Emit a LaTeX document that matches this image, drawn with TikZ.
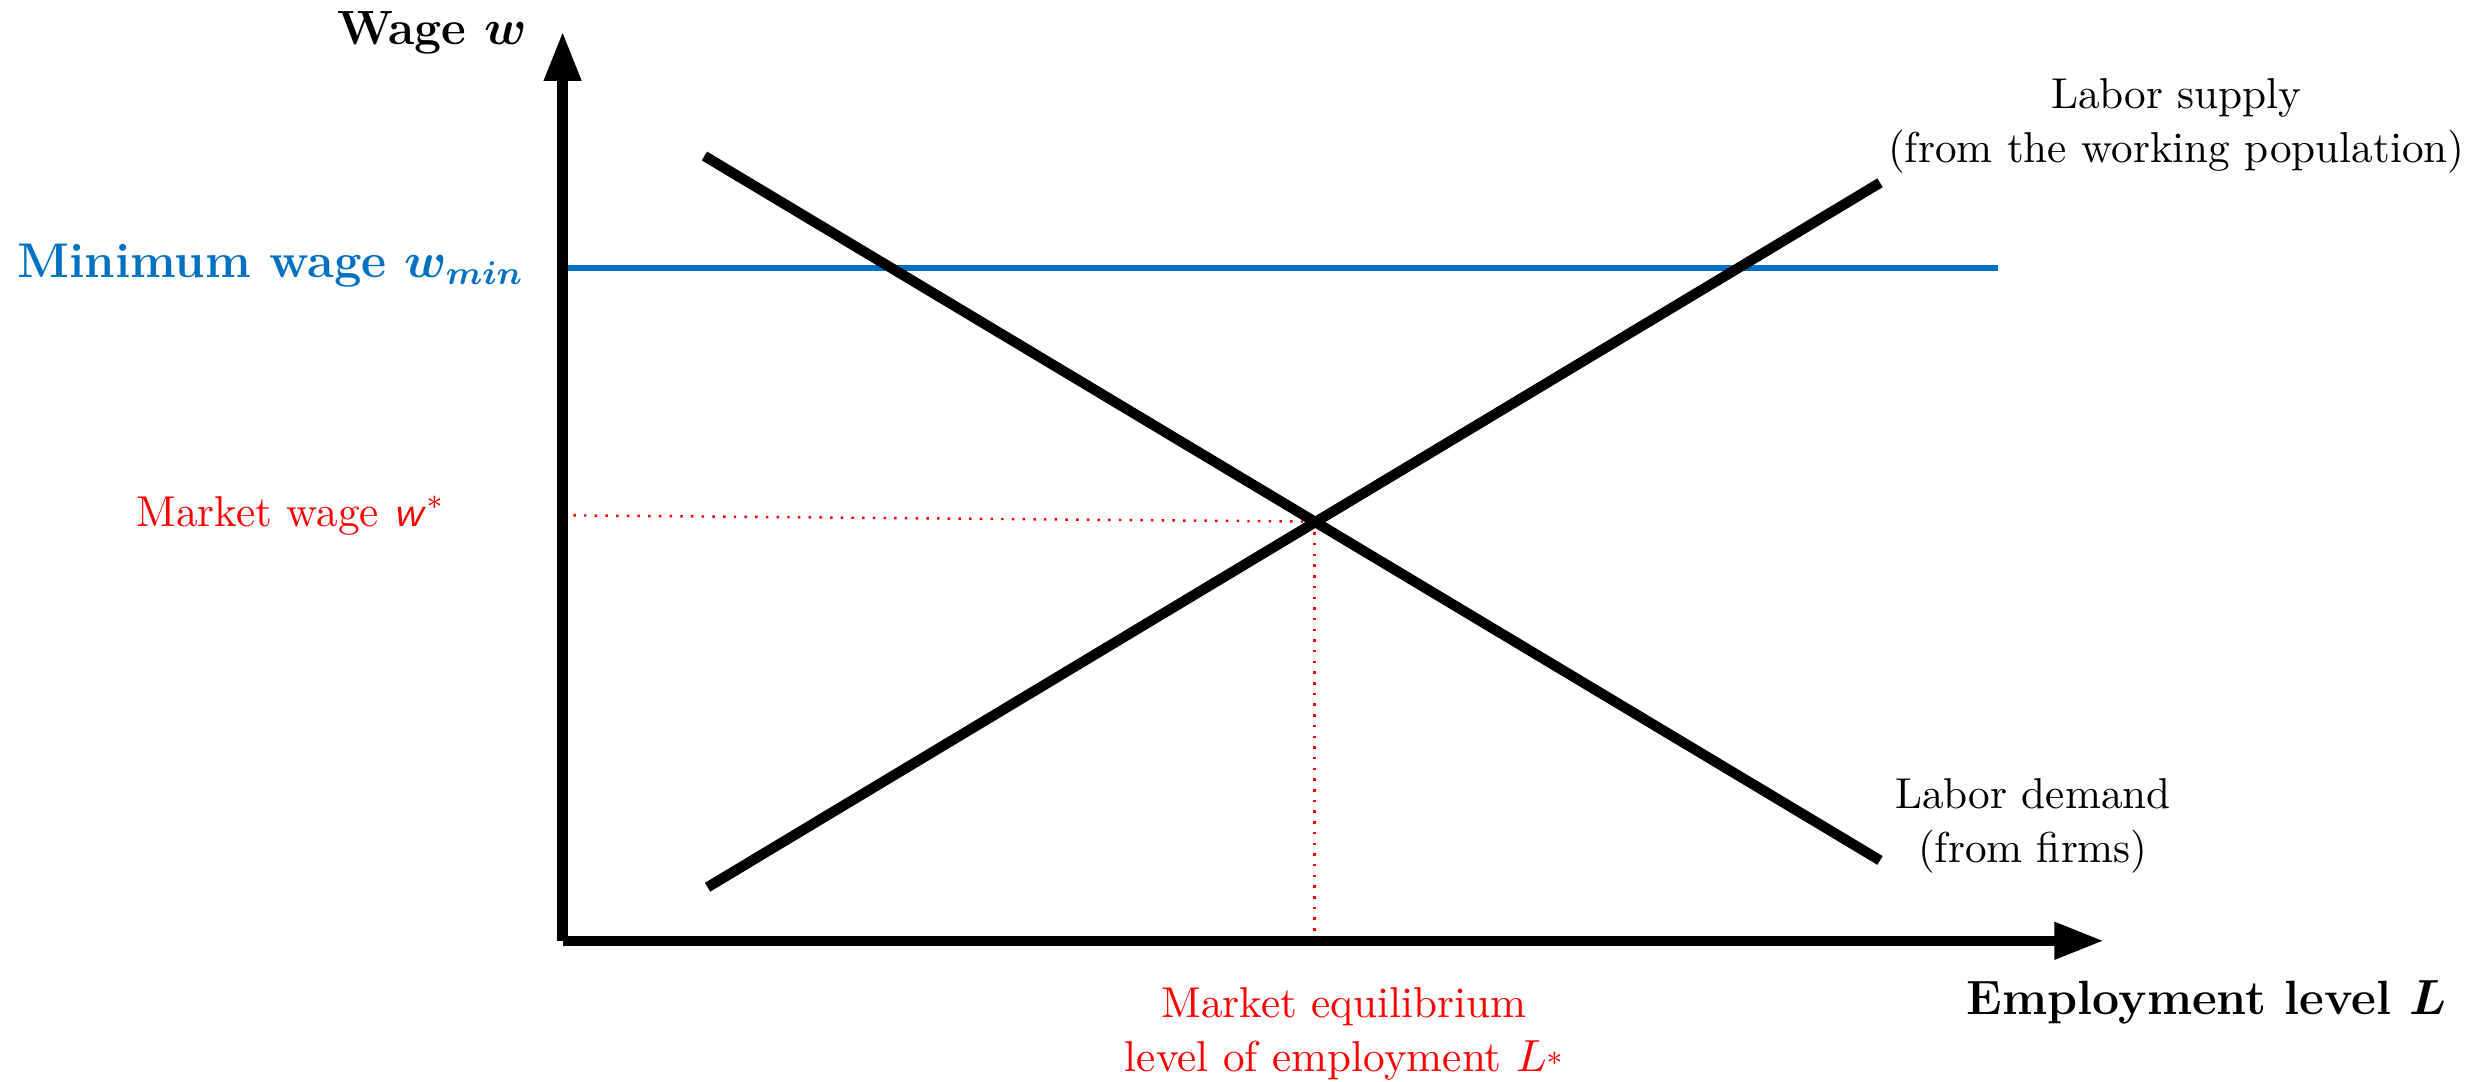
\documentclass[tikz,border=0pt]{standalone}
\usepackage{amsmath,bm}
\usetikzlibrary{arrows.meta}
\definecolor{minblue}{RGB}{0,112,192}
\tikzset{
  curve/.style={line width=2.5pt,black},
  axis/.style={line width=2.5pt,black,-{Triangle[length=12pt,width=8.5pt]}},
  guide/.style={red,line width=0.6pt,dotted},
  minline/.style={minblue,line width=1.4pt},
  lbl/.style={inner sep=0pt,font=\fontsize{10.5}{13}\selectfont},
  axlbl/.style={inner sep=0pt,font=\fontsize{11.7}{14}\selectfont\bfseries},
}
\begin{document}
\begin{tikzpicture}[x=0.383pt,y=-0.383pt]
\useasboundingbox (0,0) rectangle (1568,686);
% coordinates
\coordinate (O) at (357,597);
\coordinate (Ytop) at (357,20);
\coordinate (Xend) at (1335,597);
\coordinate (D1) at (447,99);
\coordinate (D2) at (1193,546);
\coordinate (S1) at (449,563);
\coordinate (S2) at (1193,116);
\coordinate (E) at (834,331);
\coordinate (Wy) at (357,327);
\coordinate (Lx) at (834,595);
\coordinate (M1) at (357,170);
\coordinate (M2) at (1268,170);
% guides
\draw[guide] (Wy) -- (E);
\draw[guide] (E) -- (Lx);
% min wage
\draw[minline] (M1) -- (M2);
% curves
\draw[curve] (D1) -- (D2);
\draw[curve] (S1) -- (S2);
% axes
\draw[axis] (O) -- (Ytop);
\draw[axis] (O) -- (Xend);
% labels
\node[axlbl,anchor=base east] (ylab) at (335,28) {Wage $\bm{w}$};
\node[axlbl,anchor=base east,text=minblue,font=\fontsize{11.85}{14}\selectfont\bfseries] (minlab) at (333,176) {Minimum wage $\bm{w_{min}}$};
\node[lbl,anchor=base east,text=red] (wlab) at (283,334) {Market wage \textsf{\itshape w}$^*$};
\node[lbl,align=center] (supply) at (1381,80) {Labor supply\\(from the working population)};
\node[lbl,align=center] (demand) at (1290,524) {Labor demand\\(from firms)};
\node[axlbl,anchor=east] (xlab) at (1553,636) {Employment level $\bm{L}$};
\node[lbl,align=center,text=red] (eqlab) at (853,656) {Market equilibrium\\level of employment $L$\raisebox{1.3pt}{$\scriptstyle\ast$}};
\end{tikzpicture}
\end{document}
